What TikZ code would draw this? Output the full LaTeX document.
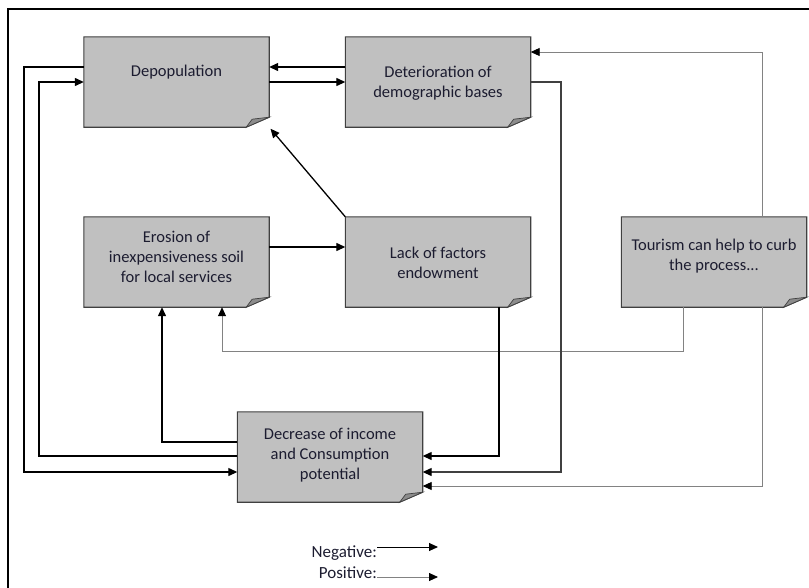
\documentclass[tikz,border=0pt]{standalone}
\usepackage{fontspec}
\setmainfont{Carlito}
\usetikzlibrary{arrows.meta,calc}
\definecolor{boxfill}{RGB}{192,192,192}
\definecolor{boxline}{RGB}{64,64,64}
\definecolor{foldfill}{RGB}{140,140,140}
\definecolor{txt}{RGB}{28,28,48}
\definecolor{posline}{RGB}{130,130,130}
\tikzset{
  notebox/.style={draw=none,fill=none,inner sep=0pt,minimum width=185pt,minimum height=90pt},
  notetext/.style={align=center,text=txt,font=\fontsize{16.5}{20}\selectfont,inner sep=0pt},
  negarrow/.style={draw=black,line width=1.3pt,-{Triangle[length=9pt,width=8pt,black]}},
  negdark/.style={draw=boxline,line width=1.3pt,-{Triangle[length=9pt,width=8pt,black]}},
  posarrow/.style={draw=posline,line width=0.9pt,-{Triangle[length=9pt,width=8pt,black]}},
  legtext/.style={text=txt,font=\fontsize{17}{20}\selectfont,anchor=east,inner sep=0pt},
}
\newcommand{\notedraw}[1]{%
  \fill[boxfill,draw=boxline,line width=1.1pt,line join=miter]
    (#1.north west) -- (#1.north east) -- ($(#1.south east)+(0,-10)$)
    -- ($(#1.south east)+(-23,0)$) -- (#1.south west) -- cycle;
  \filldraw[fill=foldfill,draw=boxline,line width=0.7pt]
    ($(#1.south east)+(-23,0)$) -- ($(#1.south east)+(-17,-8)$) -- ($(#1.south east)+(0,-10)$) -- cycle;
}
\begin{document}
\begin{tikzpicture}[x=1pt,y=-1pt]
\useasboundingbox (0,0) rectangle (809,587);
\draw[line width=2pt] (8,640) -- (8,9) -- (860,9);

% boxes
\node[notebox] (dep) at (176.5,82) {};
\node[notebox] (det) at (438,82) {};
\node[notebox] (ero) at (176.5,262) {};
\node[notebox] (lack) at (438,262) {};
\node[notebox] (tour) at (714,262) {};
\node[notebox] (dec) at (330,457) {};
\notedraw{dep}\notedraw{det}\notedraw{ero}\notedraw{lack}\notedraw{tour}\notedraw{dec}

\node[notetext] (dept) at (176.5,72) {Depopulation};
\node[notetext] (dett) at (438,83) {Deterioration of\\demographic bases};
\node[notetext] (erot) at (176.5,257) {Erosion of\\inexpensiveness soil\\for local services};
\node[notetext] (lackt) at (438,263) {Lack of factors\\endowment};
\node[notetext] (tourt) at (714,256) {Tourism can help to curb\\the process...};
\node[notetext] (dect) at (330,455) {Decrease of income\\and Consumption\\potential};

% connectors
\draw[negarrow] (dep.west |- 0,67) -- (24,67) -- (24,472) -- (dec.west |- 0,472);
\draw[negarrow] (dec.west |- 0,456) -- (39,456) -- (39,82) -- (dep.west |- 0,82);
\draw[negarrow] (dec.west |- 0,442) -- (162,442) -- (ero.south -| 162,0);
\draw[posarrow] (tour.south -| 683,0) -- (683,351) -- (222,351) -- (ero.south -| 222,0);
\draw[negarrow] (dep.east |- 0,82) -- (det.west |- 0,82);
\draw[negarrow] (det.west |- 0,67) -- (dep.east |- 0,67);
\draw[negarrow,shorten >=2pt] (lack.north west) -- (dep.south east);
\draw[negarrow] (ero.east |- 0,247) -- (lack.west |- 0,247);
\draw[negdark] (det.east |- 0,82) -- (561,82) -- (561,472) -- (dec.east |- 0,472);
\draw[negarrow] (lack.south -| 499,0) -- (499,456) -- (dec.east |- 0,456);
\draw[posarrow] (tour.south -| 762,0) -- (762,486) -- (dec.east |- 0,486);
\draw[posarrow] (tour.north -| 762,0) -- (762,52) -- (det.east |- 0,52);

% legend
\node[legtext] (negl) at (377,553) {Negative:};
\node[legtext] (posl) at (377,573) {Positive:};
\coordinate (nege) at (438,547);
\coordinate (pose) at (438,577);
\draw[negarrow,line width=1pt] (negl.east |- nege) -- (nege);
\draw[posarrow] (posl.east |- pose) -- (pose);
\end{tikzpicture}
\end{document}
